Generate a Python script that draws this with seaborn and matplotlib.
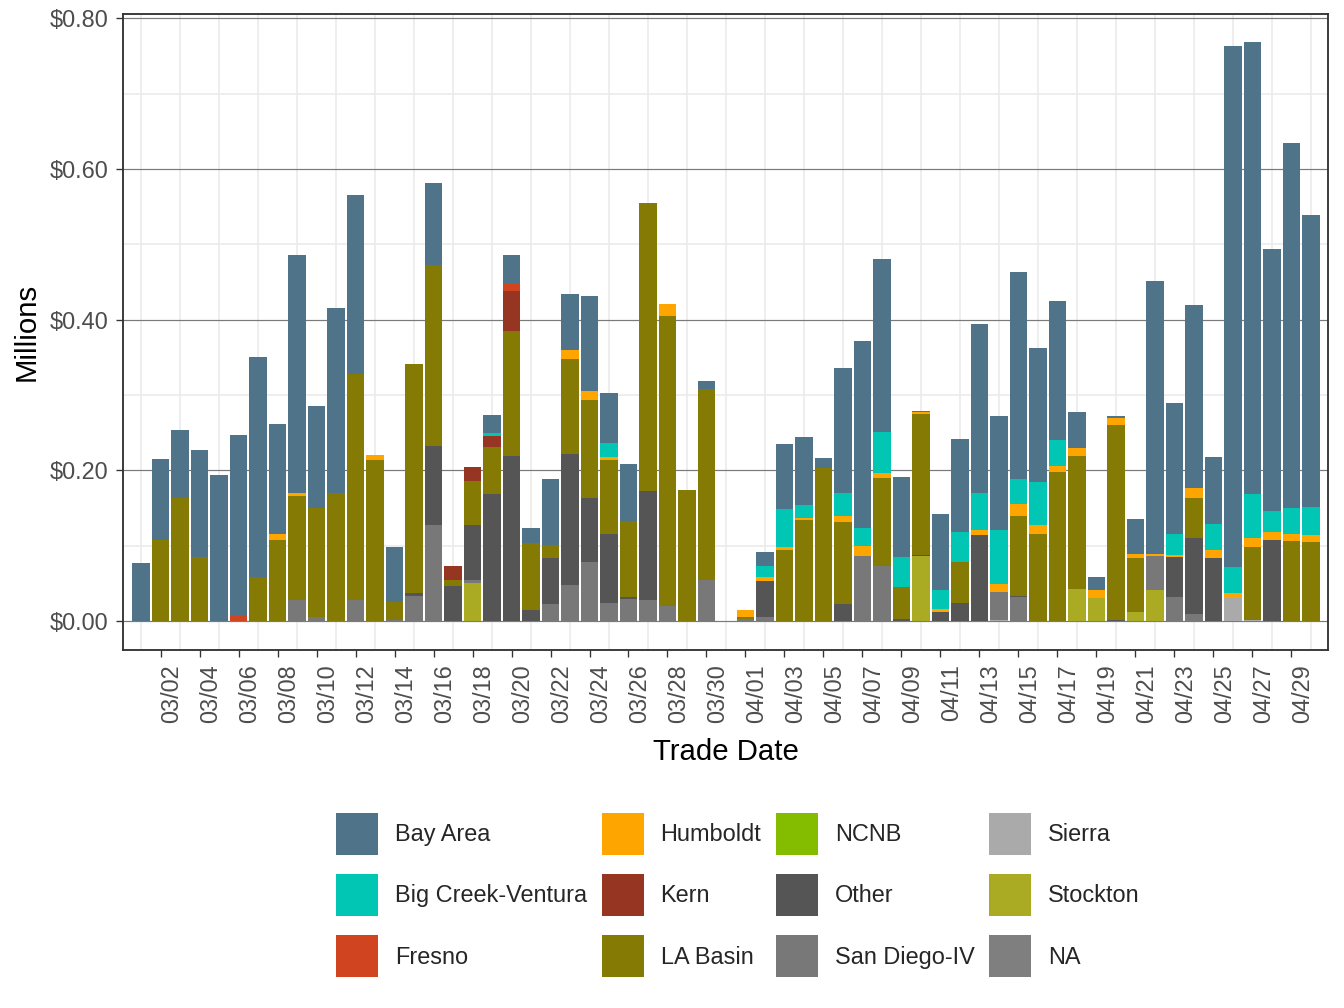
import numpy as np
import pandas as pd
import matplotlib
matplotlib.use("Agg")
import matplotlib.pyplot as plt
from matplotlib.ticker import FixedLocator, FuncFormatter
import seaborn as sns

# trade dates 03/01 - 04/30
trade_dates = pd.date_range("2021-03-01", "2021-04-30", freq="D")
date_labels = list(trade_dates.strftime("%m/%d"))

regions = ["Bay Area", "Big Creek-Ventura", "Fresno", "Humboldt", "Kern", "LA Basin",
           "NCNB", "Other", "San Diego-IV", "Sierra", "Stockton", "NA"]
colors = ["#4f7489", "#00c6b3", "#d0451f", "#ffa500", "#963622", "#857a04",
          "#84bd00", "#555555", "#787878", "#aaaaaa", "#aaab22", "#7f7f7f"]

# values in millions, one per trade date
bay_area = [.077, .108, .090, .142, .194, .239, .291, .146, .316, .136,
            .245, .238, 0, .073, 0, .108, 0, 0, .024, .039,
            .020, .088, .074, .127, .067, .076, 0, 0, 0, .011,
            0, 0, .0185, .086, .090, .013, .166, .249, .2295, .106,
            .0013, .101, .1235, .225, .151, .276, .179, .185, .048, .017,
            .0037, .046, .362, .174, .2425, .089, .692, .5995, .348, .485,
            .387]
big_creek = [0, 0, 0, 0, 0, 0, 0, 0, 0, 0,
             0, 0, 0, 0, 0, 0, 0, 0, .004, 0,
             0, 0, 0, 0, .018, 0, 0, 0, 0, 0,
             0, 0, .015, .051, .017, 0, .031, .024, .054, .040,
             0, .025, .040, .049, .072, .033, .057, .035, 0, 0,
             0, 0, 0, .029, 0, .035, .035, .059, .028, .035,
             .038]
fresno = [0, 0, 0, 0, 0, .008, 0, 0, 0, 0,
          0, 0, 0, 0, 0, 0, 0, 0, 0, .009,
          0, 0, 0, 0, 0, 0, 0, 0, 0, 0,
          0, 0, 0, 0, 0, 0, 0, 0, 0, 0,
          0, 0, 0, 0, 0, 0, 0, 0, 0, 0,
          0, 0, 0, 0, 0, 0, 0, 0, 0, 0,
          0]
humboldt = [0, 0, 0, 0, 0, 0, 0, .009, .004, 0,
            0, 0, .006, 0, 0, 0, 0, 0, 0, 0,
            0, 0, .012, .011, .004, 0, 0, .016, 0, 0,
            0, .0095, .005, .004, .003, 0, .008, .013, .0066, 0,
            .003, .004, 0, .0067, .011, .016, .012, .008, .0105, .0115,
            .0095, .005, .003, .0026, .0135, .0105, .006, .012, .011, .009,
            .0095]
kern = [0, 0, 0, 0, 0, 0, 0, 0, 0, 0,
        0, 0, 0, 0, 0, 0, .018, .019, .015, .053,
        0, 0, 0, 0, 0, 0, 0, 0, 0, 0,
        0, 0, 0, 0, 0, 0, 0, 0, 0, 0,
        0, 0, 0, 0, 0, 0, 0, 0, 0, 0,
        0, 0, 0, 0, 0, 0, 0, 0, 0, 0,
        0]
la_basin = [0, .107, .163, .085, 0, 0, .059, .107, .138, .144,
            .170, .300, .214, .024, .304, .240, .009, .058, .062, .166,
            .088, .017, .126, .130, .098, .101, .382, .385, .174, .254,
            0, .002, 0, .094, .134, .203, .108, 0, .117, .042,
            .187, 0, .054, 0, 0, .106, .115, .1975, .177, 0,
            .258, .072, 0, 0, .053, 0, 0, .096, 0, .106,
            .1045]
ncnb = [0] * 61
other = [0, 0, 0, 0, 0, 0, 0, 0, 0, 0,
         0, 0, 0, 0, .004, .106, .046, .073, .169, .219,
         .015, .061, .174, .086, .092, .003, .145, 0, 0, 0,
         0, 0, .048, 0, 0, 0, .023, 0, 0, .003,
         .0014, .012, .024, .114, 0, .001, 0, 0, 0, 0,
         .0016, 0, 0, .053, .101, .0835, 0, 0, .107, 0,
         0]
san_diego = [0, 0, 0, 0, 0, 0, 0, 0, .028, .006,
             0, .028, 0, .001, .033, .127, 0, .005, 0, 0,
             0, .023, .048, .078, .024, .029, .028, .020, 0, .054,
             0, .003, .005, 0, 0, 0, 0, .086, .073, 0,
             0, 0, 0, 0, .036, .032, 0, 0, 0, 0,
             0, 0, .045, .0315, .009, 0, 0, 0, 0, 0,
             0]
sierra = [0, 0, 0, 0, 0, 0, 0, 0, 0, 0,
          0, 0, 0, 0, 0, 0, 0, 0, 0, 0,
          0, 0, 0, 0, 0, 0, 0, 0, 0, 0,
          0, 0, 0, 0, 0, 0, 0, 0, 0, 0,
          0, 0, 0, 0, .002, 0, 0, 0, 0, 0,
          0, 0, 0, 0, 0, 0, .031, .002, 0, 0,
          0]
stockton = [0, 0, 0, 0, 0, 0, 0, 0, 0, 0,
            0, 0, 0, 0, 0, 0, 0, .050, 0, 0,
            0, 0, 0, 0, 0, 0, 0, 0, 0, 0,
            0, 0, 0, 0, 0, 0, 0, 0, 0, 0,
            .086, 0, 0, 0, 0, 0, 0, 0, .042, .030,
            0, .012, .041, 0, 0, 0, 0, 0, 0, 0,
            0]
na_region = [0] * 61

series = [bay_area, big_creek, fresno, humboldt, kern, la_basin,
          ncnb, other, san_diego, sierra, stockton, na_region]

df = pd.DataFrame(dict(zip(regions, series)))
df["day"] = np.arange(len(date_labels))
long = df.melt(id_vars="day", var_name="region", value_name="value")

sns.set_theme(style="white")
plt.rcParams["font.family"] = ["Liberation Sans", "DejaVu Sans"]

fig = plt.figure(figsize=(7, 5.25), dpi=192)
ax = fig.add_axes([0.0915, 0.3552, 0.8966, 0.6309])

sns.histplot(data=long, x="day", weights="value", hue="region", hue_order=regions,
             palette=dict(zip(regions, colors)), multiple="stack", discrete=True,
             shrink=0.9, linewidth=0, alpha=1, ax=ax)

ax.set_xlim(-0.93, 60.88)
ax.set_ylim(-0.0384, 0.8059)
ax.set_axisbelow(True)

# y axis
ax.yaxis.set_major_locator(FixedLocator([0, 0.2, 0.4, 0.6, 0.8]))
ax.yaxis.set_minor_locator(FixedLocator([0.1, 0.3, 0.5, 0.7]))
ax.yaxis.set_major_formatter(FuncFormatter(lambda v, p: f"${v:.2f}"))
ax.grid(which="major", axis="y", color="#7a7a7a", lw=0.45)
ax.grid(which="minor", axis="y", color="#ebebeb", lw=0.6)

# x axis: labels every 2 days, light lines on the days between
ax.xaxis.set_major_locator(FixedLocator(list(range(1, 61, 2))))
ax.set_xticklabels(date_labels[1::2], rotation=90, ha="left")
ax.xaxis.set_minor_locator(FixedLocator(list(range(0, 61, 2))))
ax.grid(which="minor", axis="x", color="#ebebeb", lw=0.6)

ax.tick_params(which="major", length=2.75, width=0.5, color="#333333",
               labelsize=8.8, labelcolor="#4d4d4d", pad=2.6,
               bottom=True, left=True)
ax.tick_params(which="minor", length=0)

for s in ax.spines.values():
    s.set_color("#333333")
    s.set_linewidth(0.7)

ax.set_xlabel("Trade Date", fontsize=11, color="black", labelpad=5.8)
ax.set_ylabel("Millions", fontsize=11, color="black", labelpad=3.5)

sns.move_legend(ax, "center", bbox_to_anchor=(0.549, 0.112),
                bbox_transform=fig.transFigure, ncol=4, title=None,
                frameon=False, fontsize=8.8, handlelength=1.79, handleheight=2.377,
                handletextpad=0.72, labelspacing=0.82, columnspacing=0.62,
                borderpad=0)

fig.savefig("out.png", dpi=192)
